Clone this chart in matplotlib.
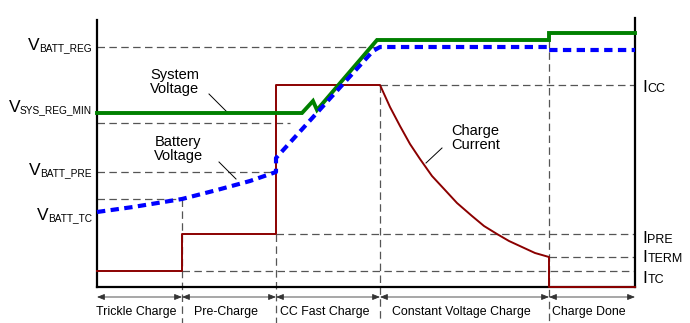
import numpy as np
import matplotlib.pyplot as plt

plt.rcParams['font.family'] = ['Liberation Sans', 'DejaVu Sans']

# charge phases (time axis, arbitrary units)
granice = [0, 85, 179, 283, 452, 538]
fazy = ['Trickle Charge', 'Pre-Charge', 'CC Fast Charge', 'Constant Voltage Charge', 'Charge Done']

# reference levels
V_BATT_REG = 240
V_SYS_REG_MIN = 174
V_POM = 164
V_BATT_PRE = 115
V_BATT_TC = 88
I_CC = 202
I_PRE = 53
I_TERM = 30
I_TC = 16

# system voltage
t_sys = [0, 205, 216, 220, 280, 452, 452, 538]
v_sys = [174, 174, 186, 177, 247, 247, 254, 254]

# battery voltage
t_bat = [0, 36, 85, 120, 153, 179, 179, 276, 283, 452, 452, 538]
v_bat = [75, 80, 88, 97, 106, 115, 129, 236, 240, 240, 237, 237]

# charge current
t_prad = [0, 85, 85, 179, 179, 283, 293, 303, 313, 323, 335, 348, 360, 375, 387,
          400, 412, 425, 438, 452, 452, 538]
i_prad = [16, 16, 53, 53, 202, 202, 180, 161, 143, 128, 111, 97, 84, 71, 61,
          53, 46, 40, 34, 30, 0, 0]

szary = '#555555'
kreska = (0, (6, 3.5))

fig = plt.figure(figsize=(6.9, 3.23), dpi=100)
ax = fig.add_axes([0, 0, 1, 1])
ax.set_xlim(-97, 593)
ax.set_ylim(-36, 287)
ax.axis('off')

# dashed guide lines
poziome = [(V_BATT_REG, 0, 281), (V_POM, 0, 193), (V_BATT_PRE, 0, 179), (V_BATT_TC, 0, 85),
           (I_CC, 283, 538), (I_PRE, 179, 538), (I_TERM, 452, 538), (I_TC, 85, 538)]
for y, x1, x2 in poziome:
    ax.plot([x1, x2], [y, y], color=szary, lw=0.9, ls=kreska, zorder=1)
pionowe = [(granice[1], V_BATT_TC), (granice[2], I_PRE), (granice[3], I_CC), (granice[4], 247)]
for x, y in pionowe:
    ax.plot([x, x], [y, -36], color=szary, lw=0.9, ls=kreska, zorder=1)

# frame
ax.plot([0, 0], [0, 267], color='black', lw=1.6, zorder=2)
ax.plot([538, 538], [0, 269], color='black', lw=1.6, zorder=2)
ax.plot([0, 538], [0, 0], color='black', lw=1.6, zorder=2)

ax.plot(t_prad, i_prad, color='#8b0000', lw=1.4, zorder=3)
ax.plot(t_sys, v_sys, color='#008000', lw=2.8, zorder=4, solid_joinstyle='miter')
ax.plot(t_bat, v_bat, color='#0000ff', lw=3.0, ls=(0, (2.0, 1.3)), zorder=5)


def etykieta(x, y, litera, indeks, strona):
    # big letter with a smaller subscript next to it, nearly on one baseline
    if strona == 'lewa':
        sub = ax.text(x, y, indeks, ha='right', va='baseline', fontsize=7.3)
        ax.annotate(litera, xy=(0, 0), xycoords=sub, xytext=(0.3, 2.2),
                    textcoords='offset points', ha='right', va='baseline', fontsize=12.5)
    else:
        duza = ax.text(x, y, litera, ha='left', va='baseline', fontsize=12.5)
        ax.annotate(indeks, xy=(1, 0), xycoords=duza, xytext=(0.3, 1.9),
                    textcoords='offset points', ha='left', va='baseline', fontsize=9)


lewe = [(V_BATT_REG - 4, 'BATT_REG'), (V_SYS_REG_MIN, 'SYS_REG_MIN'),
        (V_BATT_PRE - 4, 'BATT_PRE'), (V_BATT_TC - 22, 'BATT_TC')]
for y, s in lewe:
    etykieta(-5, y, 'V', s, 'lewa')

prawe = [(I_CC - 7, 'CC'), (I_PRE - 9, 'PRE'), (I_TERM - 5, 'TERM'), (I_TC - 12, 'TC')]
for y, s in prawe:
    etykieta(545, y, 'I', s, 'prawa')

# curve annotations
ax.text(78, 205, 'System\nVoltage', ha='center', va='center', fontsize=10.5, linespacing=1.0)
ax.plot([112, 130], [193, 175], color='black', lw=0.7)
ax.text(81, 138, 'Battery\nVoltage', ha='center', va='center', fontsize=10.5, linespacing=1.0)
ax.plot([122, 139], [125, 108], color='black', lw=0.7)
ax.text(354, 149, 'Charge\nCurrent', ha='left', va='center', fontsize=10.5, linespacing=1.0)
ax.plot([345, 329], [139, 124], color='black', lw=0.7)

# phase arrows and names
for a, b, nazwa in zip(granice[:-1], granice[1:], fazy):
    ax.annotate('', xy=(b, -10), xytext=(a, -10),
                arrowprops=dict(arrowstyle='<|-|>,head_length=0.45,head_width=0.18',
                                color='#333333', lw=0.6, shrinkA=0, shrinkB=0))
    ax.text((a + b) / 2 - 3, -25, nazwa, ha='center', va='center', fontsize=8.9)

fig.savefig('out.png', dpi=100)
